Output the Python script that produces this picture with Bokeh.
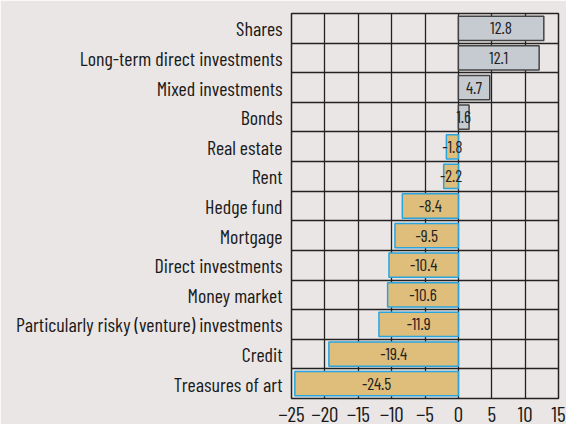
from bokeh.plotting import figure
from bokeh.models import Range1d, FixedTicker, ColumnDataSource
from bokeh.embed import file_html
from bokeh.resources import INLINE
from bokeh.core.properties import value

categories = ["Shares", "Long-term direct investments", "Mixed investments", "Bonds",
              "Real estate", "Rent", "Hedge fund", "Mortgage", "Direct investments",
              "Money market", "Particularly risky (venture) investments", "Credit",
              "Treasures of art"]
values = [12.8, 12.1, 4.7, 1.6, -1.8, -2.2, -8.4, -9.5, -10.4, -10.6, -11.9, -19.4, -24.5]
x_ticks = [-25, -20, -15, -10, -5, 0, 5, 10, 15]

FONT = "Barlow Condensed"
BG = "#EAE6E5"
n = len(categories)
ypos = [n - 1 - i for i in range(n)]

pos = dict(y=[], right=[], mid=[], label=[])
neg = dict(y=[], right=[], mid=[], label=[])
for y, v in zip(ypos, values):
    d = pos if v >= 0 else neg
    d["y"].append(y)
    d["right"].append(v)
    d["mid"].append(v / 2)
    d["label"].append(f"{v:g}")

p = figure(width=566, height=424, output_backend="svg", toolbar_location=None,
           x_range=Range1d(-25, 15), y_range=Range1d(-0.5, n - 0.5),
           min_border_left=291, min_border_right=8, min_border_top=13, min_border_bottom=24)
p.background_fill_color = BG
p.border_fill_color = BG
p.outline_line_color = "#222222"
p.outline_line_width = 1.5

p.xaxis.ticker = FixedTicker(ticks=x_ticks)
p.xgrid.ticker = FixedTicker(ticks=x_ticks)
p.xgrid.grid_line_color = "#222222"
p.xgrid.grid_line_width = 1.3
p.ygrid.ticker = FixedTicker(ticks=[k + 0.5 for k in range(n - 1)])
p.ygrid.grid_line_color = "#222222"
p.ygrid.grid_line_width = 1.3

p.yaxis.ticker = FixedTicker(ticks=ypos)
p.yaxis.major_label_overrides = {y: c for y, c in zip(ypos, categories)}

for ax in (p.xaxis, p.yaxis):
    ax.axis_line_color = None
    ax.major_tick_line_color = None
    ax.minor_tick_line_color = None
    ax.major_label_text_font = FONT
    ax.major_label_text_color = "#1a1a1a"
p.xaxis.major_label_text_font_size = "21px"
p.xaxis.major_label_standoff = 2
p.yaxis.major_label_text_font_size = "20px"
p.yaxis.major_label_standoff = 3

sp = ColumnDataSource(pos)
sn = ColumnDataSource(neg)
p.hbar(y="y", left=0, right="right", height=0.82, source=sp,
       fill_color="#C6CBD1", line_color="#444444", line_width=1.5)
p.hbar(y="y", left=0, right="right", height=0.82, source=sn,
       fill_color="#DFBD7A", line_color="#2AA4DC", line_width=1.5)
for s in (sp, sn):
    p.text(x="mid", y="y", text="label", source=s, text_align="center",
           text_baseline="middle", text_font=value(FONT), text_font_size="17px",
           text_color="#222222")

open("out.html", "w").write(file_html(p, INLINE))
